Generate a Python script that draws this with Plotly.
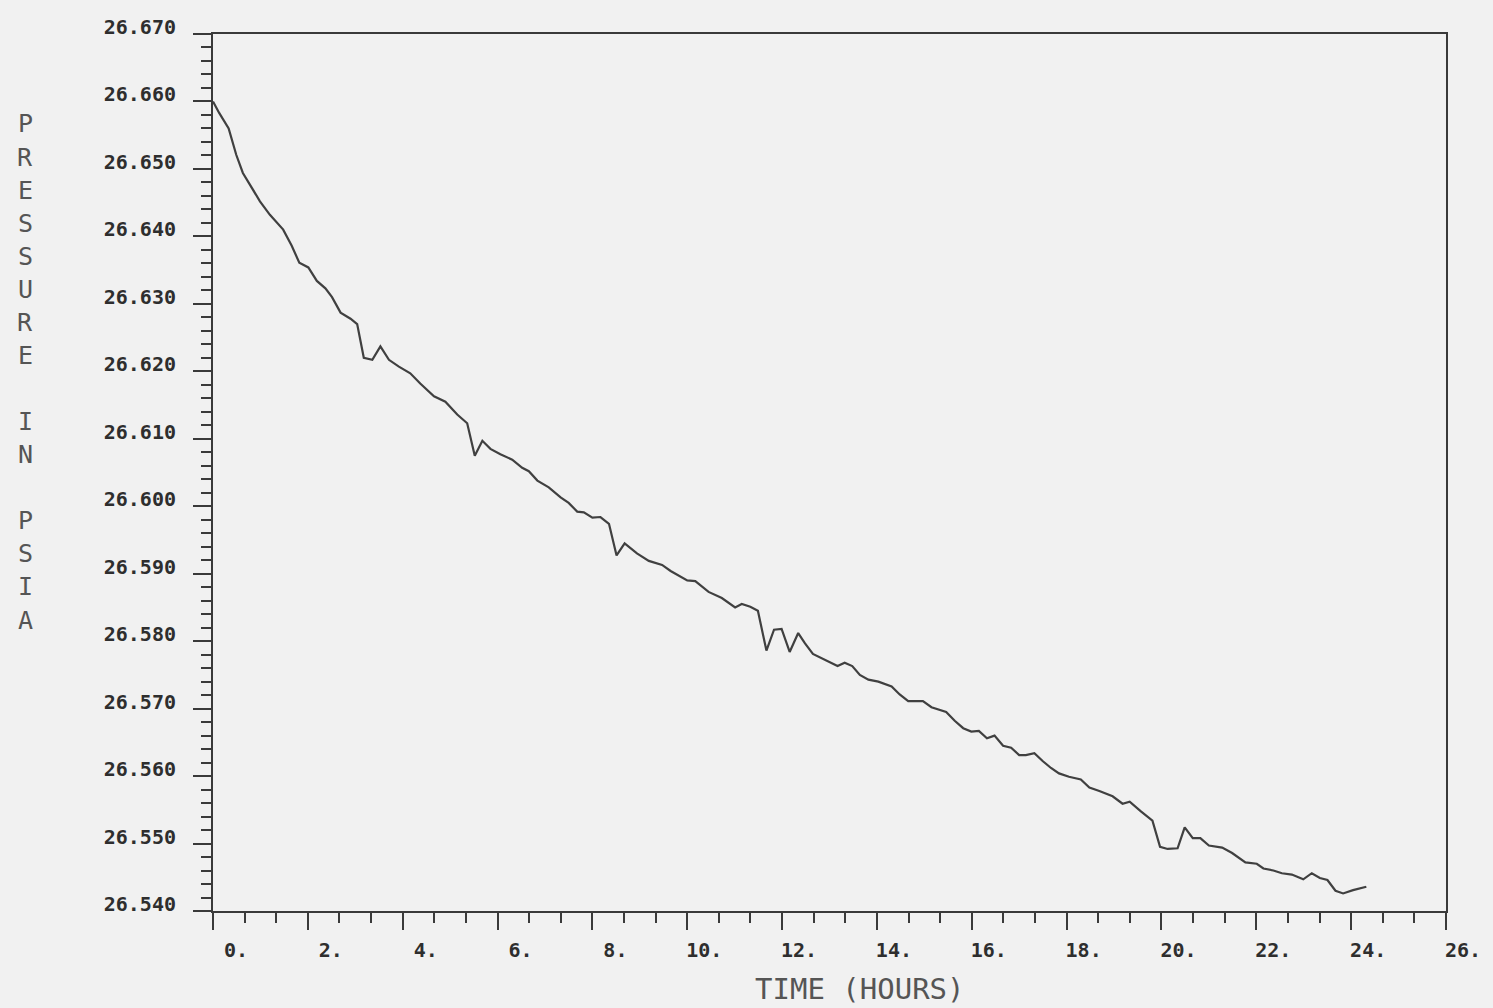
import plotly.graph_objects as go

# Elapsed time (hours) and measured containment pressure (psia)
time_hr = [0.00, 0.13, 0.33, 0.49, 0.63, 0.77, 0.99, 1.20, 1.48, 1.66,
           1.82, 2.01, 2.19, 2.37, 2.51, 2.69, 2.90, 3.04, 3.18, 3.36,
           3.53, 3.71, 3.92, 4.16, 4.37, 4.66, 4.90, 5.15, 5.36, 5.52,
           5.68, 5.85, 6.06, 6.31, 6.52, 6.66, 6.84, 7.08, 7.33, 7.50,
           7.68, 7.82, 8.00, 8.17, 8.35, 8.51, 8.68, 8.94, 9.19, 9.47,
           9.65, 10.00, 10.17, 10.45, 10.73, 11.01, 11.15, 11.33, 11.49, 11.67,
           11.83, 11.99, 12.16, 12.34, 12.48, 12.65, 12.91, 13.17, 13.32, 13.48,
           13.64, 13.82, 14.03, 14.31, 14.48, 14.66, 14.97, 15.15, 15.46, 15.64,
           15.82, 15.99, 16.15, 16.32, 16.48, 16.66, 16.83, 17.00, 17.14, 17.32,
           17.50, 17.67, 17.84, 18.05, 18.30, 18.48, 18.69, 18.97, 19.18, 19.33,
           19.56, 19.81, 19.97, 20.13, 20.34, 20.49, 20.66, 20.82, 21.00, 21.28,
           21.49, 21.77, 22.01, 22.15, 22.36, 22.54, 22.75, 22.99, 23.17, 23.34,
           23.50, 23.67, 23.83, 24.04, 24.32]

pressure_psia = [26.6600, 26.6583, 26.6560, 26.6521, 26.6494, 26.6477, 26.6452, 26.6432, 26.6410, 26.6386,
                 26.6361, 26.6354, 26.6334, 26.6323, 26.6310, 26.6287, 26.6278, 26.6270, 26.6220, 26.6217,
                 26.6237, 26.6217, 26.6207, 26.6197, 26.6182, 26.6163, 26.6155, 26.6136, 26.6123, 26.6075,
                 26.6097, 26.6085, 26.6077, 26.6069, 26.6057, 26.6052, 26.6038, 26.6028, 26.6013, 26.6005,
                 26.5992, 26.5991, 26.5983, 26.5984, 26.5974, 26.5927, 26.5945, 26.5930, 26.5919, 26.5913,
                 26.5904, 26.5890, 26.5889, 26.5873, 26.5864, 26.5850, 26.5855, 26.5851, 26.5845, 26.5786,
                 26.5817, 26.5818, 26.5784, 26.5812, 26.5797, 26.5781, 26.5772, 26.5763, 26.5768, 26.5763,
                 26.5750, 26.5743, 26.5740, 26.5733, 26.5721, 26.5711, 26.5711, 26.5702, 26.5695, 26.5682,
                 26.5671, 26.5666, 26.5667, 26.5656, 26.5660, 26.5645, 26.5642, 26.5631, 26.5631, 26.5634,
                 26.5622, 26.5612, 26.5604, 26.5599, 26.5595, 26.5583, 26.5578, 26.5570, 26.5559, 26.5562,
                 26.5548, 26.5534, 26.5495, 26.5492, 26.5493, 26.5524, 26.5508, 26.5508, 26.5497, 26.5494,
                 26.5486, 26.5472, 26.5470, 26.5463, 26.5460, 26.5456, 26.5454, 26.5447, 26.5456, 26.5449,
                 26.5446, 26.5430, 26.5426, 26.5431, 26.5436]

# Axis ticks
x_tick_vals = [0, 2, 4, 6, 8, 10, 12, 14, 16, 18, 20, 22, 24, 26]
y_tick_vals = [26.540, 26.550, 26.560, 26.570, 26.580, 26.590, 26.600,
               26.610, 26.620, 26.630, 26.640, 26.650, 26.660, 26.670]

x_title = "TIME (HOURS)"
y_title = "PRESSURE IN PSIA"

# Labels in a fixed-width field: single digits get a leading space
x_tick_text = [("\u00a0" if v < 10 else "") + f"{v}." for v in x_tick_vals]
y_tick_text = [f"{v:.3f}" for v in y_tick_vals]

BG = "#f1f1f1"
INK = "#3a3a3a"
LABEL_FONT = dict(family="DejaVu Sans Mono", size=20, color="#2e2e2e", weight="bold")

fig = go.Figure()
fig.add_trace(go.Scatter(
    x=time_hr, y=pressure_psia, mode="lines",
    line=dict(color="#404040", width=2.2),
    showlegend=False, hoverinfo="skip",
))

fig.update_xaxes(
    range=[0, 26], tickmode="array", tickvals=x_tick_vals, ticktext=x_tick_text,
    ticks="outside", ticklen=17, tickwidth=2, tickcolor=INK,
    showline=True, linewidth=2, linecolor=INK, mirror=True,
    showgrid=False, zeroline=False,
    tickfont=LABEL_FONT, ticklabelstandoff=3, ticklabelshift=17,
    minor=dict(dtick=2 / 3, tick0=0, ticks="outside", ticklen=10, tickwidth=2,
               tickcolor=INK, showgrid=False),
)
fig.update_yaxes(
    range=[26.540, 26.670], tickmode="array", tickvals=y_tick_vals, ticktext=y_tick_text,
    ticks="outside", ticklen=18, tickwidth=2, tickcolor=INK,
    showline=True, linewidth=2, linecolor=INK, mirror=True,
    showgrid=False, zeroline=False,
    tickfont=LABEL_FONT, ticklabelstandoff=13, ticklabelshift=-7,
    minor=dict(dtick=0.002, tick0=26.540, ticks="outside", ticklen=10, tickwidth=2,
               tickcolor=INK, showgrid=False),
)

# X-axis title
fig.add_annotation(
    text=x_title, xref="paper", yref="paper", x=0.525, y=-0.0895,
    xanchor="center", yanchor="middle", showarrow=False,
    font=dict(family="DejaVu Sans Mono", size=29, color="#555555"),
)

# Y-axis title, one letter per line
plot_top, plot_h = 34, 877
for i, ch in enumerate(y_title):
    if ch == " ":
        continue
    py = 124 + 33.07 * i
    fig.add_annotation(
        text=ch, xref="paper", yref="paper", x=0, xshift=25 - 213,
        y=1 - (py - plot_top) / plot_h, xanchor="center", yanchor="middle",
        showarrow=False,
        font=dict(family="DejaVu Sans Mono", size=25, color="#555555"),
    )

fig.update_layout(
    width=1493, height=1008,
    margin=dict(l=213, r=36, t=34, b=97),
    paper_bgcolor=BG, plot_bgcolor=BG,
)

fig.write_html("out.html")
